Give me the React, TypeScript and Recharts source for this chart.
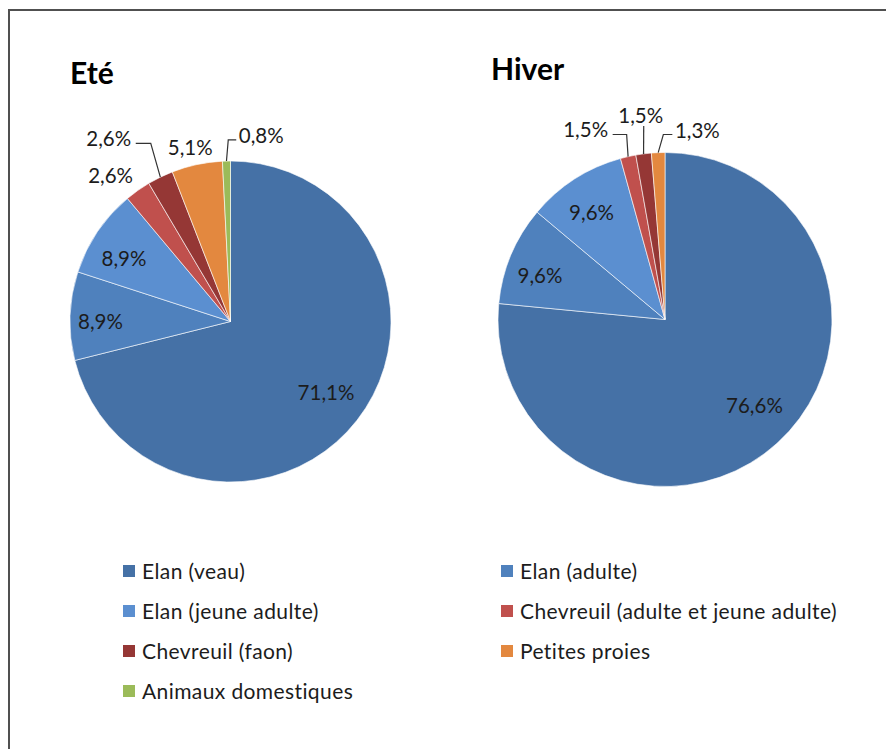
import React from "react";
import { PieChart, Pie, Cell } from "recharts";

const CATEGORIES = [
  "Elan (veau)",
  "Elan (adulte)",
  "Elan (jeune adulte)",
  "Chevreuil (adulte et jeune adulte)",
  "Chevreuil (faon)",
  "Petites proies",
  "Animaux domestiques",
];
const ETE_VALUES = [71.1, 8.9, 8.9, 2.6, 2.6, 5.1, 0.8];
const HIVER_VALUES = [76.6, 9.6, 9.6, 1.5, 1.5, 1.3, 0];

const COLORS = ["#4571a6", "#4f81bd", "#5b8fd0", "#c0504d", "#953735", "#e3883f", "#9bbb59"];

const FONT = "Lato, 'Open Sans', sans-serif";
const INK = "#1c1c1c";

// label placement: rf = radius factor, da = angle shift (deg, clockwise), leader side
type LabelPos = { rf: number; da: number; leader?: "left" | "right" | "bottom"; stub?: number };

const ETE_LABELS: LabelPos[] = [
  { rf: 0.741, da: -1.4 },
  { rf: 0.81, da: -1.8 },
  { rf: 0.773, da: -3.2 },
  { rf: 1.18, da: -4 },
  { rf: 1.37, da: -7.7, leader: "right", stub: 15 },
  { rf: 1.118, da: -0.9 },
  { rf: 1.178, da: 10.8, leader: "left", stub: 8 },
];
const HIVER_LABELS: LabelPos[] = [
  { rf: 0.739, da: -4.2 },
  { rf: 0.794, da: -3.3 },
  { rf: 0.782, da: -1.5 },
  { rf: 1.233, da: -9.9, leader: "right", stub: 14 },
  { rf: 1.233, da: 0.6, leader: "bottom" },
  { rf: 1.154, da: 12, leader: "left", stub: 9 },
];

const RAD = Math.PI / 180;

function toData(values: number[]) {
  return CATEGORIES.map((name, i) => ({ name, value: values[i], ci: i })).filter((d) => d.value > 0);
}

function fmt(v: number) {
  return v.toFixed(1).replace(".", ",") + "%";
}

function makeLabel(positions: LabelPos[]) {
  return (p: any) => {
    const pos = positions[p.index];
    if (!pos) return null;
    const { cx, cy, outerRadius, midAngle } = p;
    const a = midAngle - pos.da; // recharts angles run counter-clockwise
    const R = outerRadius * pos.rf;
    const lx = cx + Math.cos(-a * RAD) * R;
    const ly = cy + Math.sin(-a * RAD) * R;
    const ex = cx + Math.cos(-midAngle * RAD) * outerRadius;
    const ey = cy + Math.sin(-midAngle * RAD) * outerRadius;
    const half = 24;
    let leader: string | null = null;
    if (pos.leader === "right") {
      const sx = lx + half + 3;
      leader = `${sx},${ly + 5} ${sx + (pos.stub ?? 12)},${ly + 5} ${ex},${ey}`;
    } else if (pos.leader === "left") {
      const sx = lx - half - 1;
      leader = `${sx},${ly + 5} ${sx - (pos.stub ?? 12)},${ly + 5} ${ex},${ey}`;
    } else if (pos.leader === "bottom") {
      leader = `${lx + 3},${ly + 11} ${ex},${ey}`;
    }
    return (
      <g>
        {leader && <polyline points={leader} fill="none" stroke="#333" strokeWidth={1.2} />}
        <text
          x={lx}
          y={ly}
          textAnchor="middle"
          dominantBaseline="central"
          fontFamily={FONT}
          fontSize={20.5}
          fill={INK}
        >
          {fmt(p.value)}
        </text>
      </g>
    );
  };
}

export default function App() {
  const ete = toData(ETE_VALUES);
  const hiver = toData(HIVER_VALUES);
  return (
    <div
      style={{
        position: "fixed",
        left: 0,
        top: 0,
        width: 886,
        height: 749,
        overflow: "hidden",
        background: "#fff",
        fontFamily: FONT,
      }}
    >
      <div
        style={{
          position: "absolute",
          left: 8,
          top: 9,
          width: 960,
          height: 860,
          borderTop: "2px solid #505050",
          borderLeft: "2px solid #505050",
        }}
      />
      <div style={{ position: "absolute", left: 70, top: 54, fontSize: 30, fontWeight: 700, color: "#000" }}>Eté</div>
      <div style={{ position: "absolute", left: 491, top: 50, fontSize: 30, fontWeight: 700, color: "#000" }}>Hiver</div>

      <div style={{ position: "absolute", left: 0, top: 0 }}>
        <PieChart width={886} height={749} margin={{ top: 0, right: 0, bottom: 0, left: 0 }}>
          <Pie
            data={ete}
            dataKey="value"
            nameKey="name"
            cx={230.5}
            cy={321.5}
            outerRadius={160.5}
            startAngle={90}
            endAngle={-270}
            stroke="#ffffff"
            strokeOpacity={0.6}
            strokeWidth={1}
            label={makeLabel(ETE_LABELS)}
            labelLine={false}
            isAnimationActive={false}
          >
            {ete.map((d) => (
              <Cell key={d.name} fill={COLORS[d.ci]} />
            ))}
          </Pie>
          <Pie
            data={hiver}
            dataKey="value"
            nameKey="name"
            cx={665}
            cy={319.5}
            outerRadius={167}
            startAngle={90}
            endAngle={-270}
            stroke="#ffffff"
            strokeOpacity={0.6}
            strokeWidth={1}
            label={makeLabel(HIVER_LABELS)}
            labelLine={false}
            isAnimationActive={false}
          >
            {hiver.map((d) => (
              <Cell key={d.name} fill={COLORS[d.ci]} />
            ))}
          </Pie>
        </PieChart>
      </div>

      {CATEGORIES.map((name, i) => (
        <div
          key={name}
          style={{
            position: "absolute",
            left: i % 2 === 0 ? 123 : 501,
            top: 570.5 + Math.floor(i / 2) * 40 - 14,
            height: 28,
            display: "flex",
            alignItems: "center",
            fontSize: 21,
            letterSpacing: 0.4,
            color: INK,
            whiteSpace: "nowrap",
          }}
        >
          <span style={{ width: 12, height: 12, background: COLORS[i], marginRight: 7, flex: "none" }} />
          {name}
        </div>
      ))}
    </div>
  );
}
